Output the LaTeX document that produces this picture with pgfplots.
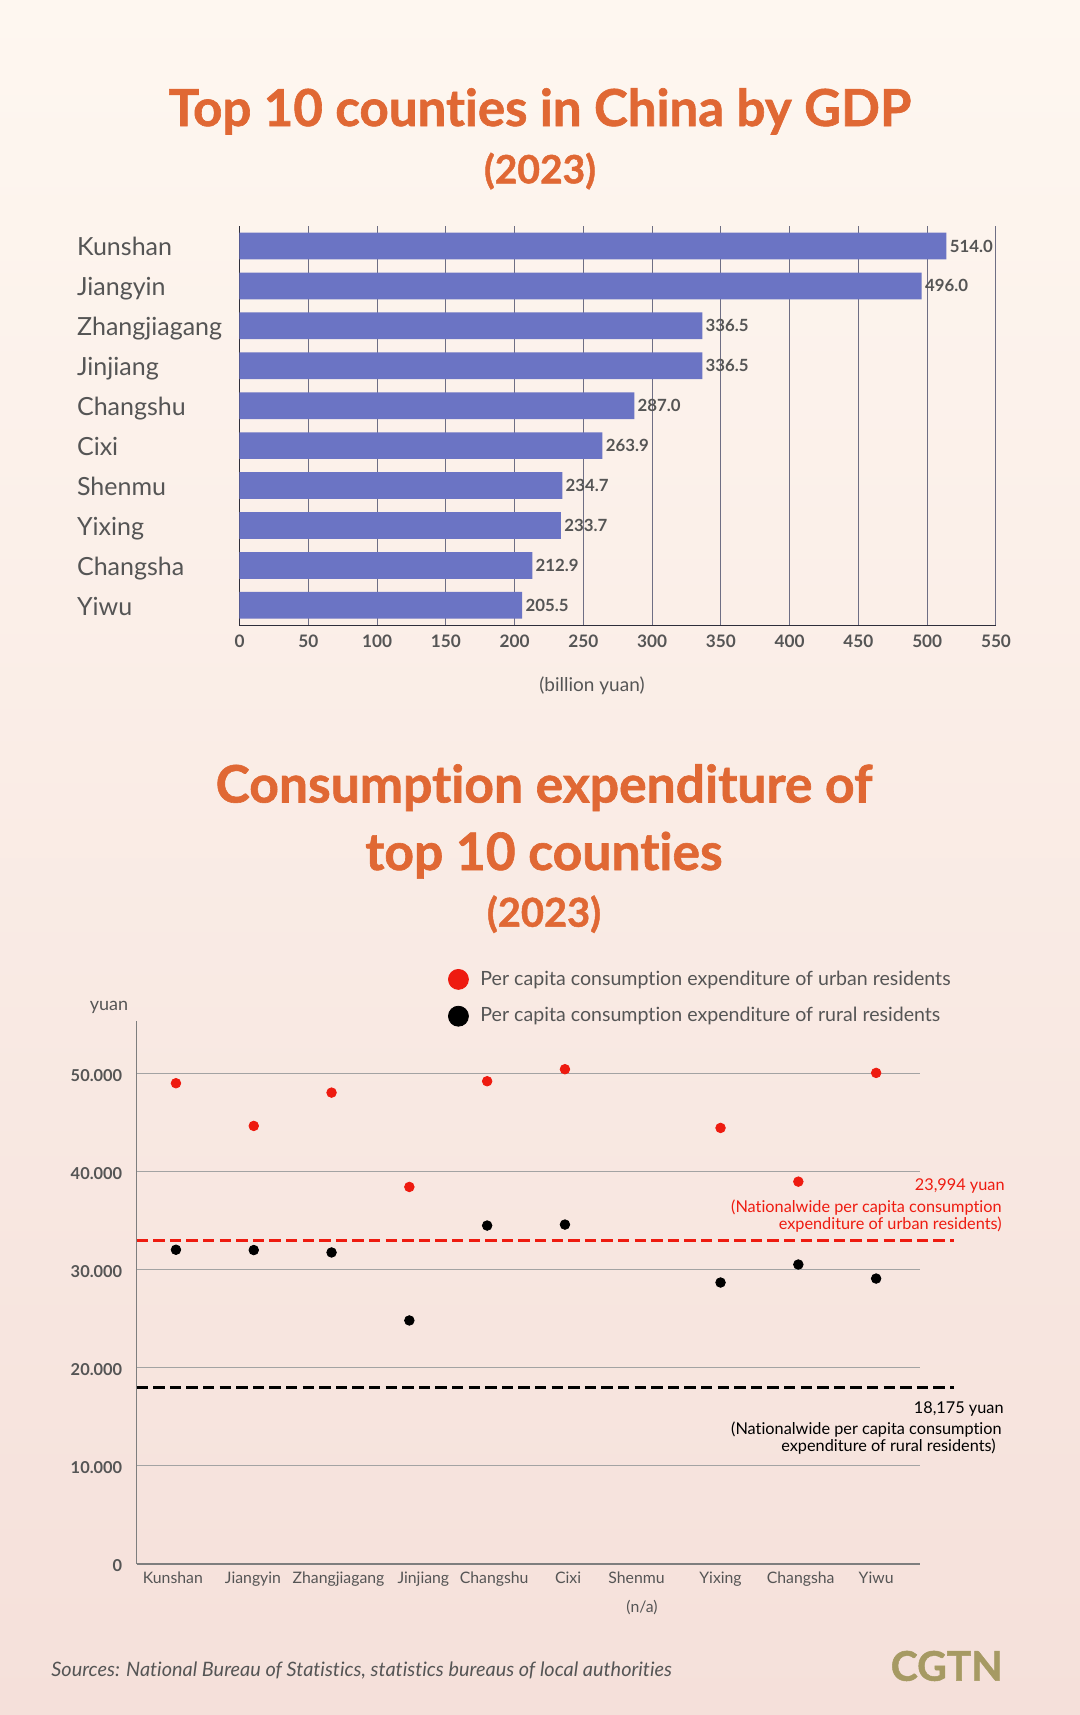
\documentclass[border=0pt]{standalone}
\usepackage{fontspec}
\setmainfont{Lato}[Ligatures=NoCommon]
\newfontfamily\titlefont{Lato}[Ligatures=NoCommon, BoldFeatures={FakeBold=1.2}]
\usepackage{pgfplots}
\pgfplotsset{compat=1.18}
\definecolor{bgtop}{HTML}{FEF7F0}
\definecolor{bgbot}{HTML}{F5E0DA}
\definecolor{ttl}{HTML}{E06834}
\definecolor{barc}{HTML}{6B74C4}
\definecolor{txt}{HTML}{555555}
\definecolor{grd}{HTML}{6E6E84}
\definecolor{axc}{HTML}{2E2E3A}
\definecolor{urb}{HTML}{EE1B10}
\definecolor{sgrd}{HTML}{A3A3A3}
\definecolor{sax}{HTML}{7E7E7E}
\definecolor{cgtn}{HTML}{A69A63}
\newcommand{\fs}[2]{\fontsize{#1}{#2}\selectfont}
\begin{document}
\begin{tikzpicture}
\useasboundingbox (0,0) rectangle (540pt,-857.5pt);
\shade[top color=bgtop,bottom color=bgbot] (0,0) rectangle (540pt,-857.5pt);

% ---------- bar chart ----------
\begin{axis}[
 at={(119.75pt,-312.65pt)}, anchor=south west,
 width=378.25pt, height=199.65pt, scale only axis,
 xbar, bar width=13.35pt, bar shift=0pt,
 xmin=0, xmax=550, ymin=-0.5, ymax=9.5,
 axis x line*=bottom, axis y line*=left,
 axis line style={axc, line width=0.7pt, -},
 x axis line style={-}, y axis line style={-},
 xtick={0,50,...,550}, ytick={0,...,9},
 yticklabels={Yiwu,Changsha,Yixing,Shenmu,Cixi,Changshu,Jinjiang,Zhangjiagang,Jiangyin,Kunshan},
 major tick length=0pt,
 xmajorgrids, grid style={grd, line width=0.5pt},
 /pgf/number format/assume math mode=true,
 xticklabel style={anchor=base, inner sep=0pt, yshift=-11.2pt, font=\bfseries\fs{8.6}{10}, text=txt},
 yticklabel style={anchor=base west, inner sep=0pt, xshift=-81.4pt, yshift=-4.85pt, font=\fs{12.5}{15}, text=txt},
 point meta=x,
 nodes near coords={\pgfmathprintnumber[fixed,fixed zerofill,precision=1,assume math mode=true]{\pgfplotspointmeta}},
 nodes near coords style={anchor=west, inner sep=0pt, xshift=1.5pt, font=\bfseries\fs{8.4}{10}, text=txt},
 clip=false,
]
\addplot[fill=barc, draw=none] coordinates {
 (514.0,9) (496.0,8) (336.5,7) (336.5,6) (287.0,5)
 (263.9,4) (234.7,3) (233.7,2) (212.9,1) (205.5,0)};
\end{axis}

% ---------- scatter chart ----------
\begin{axis}[
 at={(68.3pt,-782pt)}, anchor=south west,
 width=391.55pt, height=271.5pt, scale only axis,
 xmin=-0.506, xmax=9.56, ymin=0, ymax=55318,
 axis x line*=bottom, axis y line*=left,
 axis line style={sax, line width=0.6pt, -},
 x axis line style={-}, y axis line style={-},
 xtick={-0.04,0.99,2.09,3.18,4.09,5.04,5.92,7.0,8.03,9.0},
 xticklabels={Kunshan,Jiangyin,Zhangjiagang,Jinjiang,Changshu,Cixi,Shenmu,Yixing,Changsha,Yiwu},
 ytick={0,10000,20000,30000,40000,50000},
 yticklabels={0,10.000,20.000,30.000,40.000,50.000},
 scaled y ticks=false,
 major tick length=0pt,
 ymajorgrids, grid style={sgrd, line width=0.6pt},
 /pgf/number format/assume math mode=true,
 xticklabel style={anchor=base, inner sep=0pt, yshift=-9.65pt, font=\fs{7.9}{10}, text=txt},
 yticklabel style={anchor=east, inner sep=0pt, xshift=-7pt, yshift=-1pt, font=\bfseries\fs{8.2}{10}, text=txt},
 clip=false,
 legend cell align=left,
 legend image code/.code={\fill[#1] (0pt,0pt) circle (5pt);},
 legend style={at={(0.3977,1.0958)}, anchor=north west, draw=none, fill=none,
   inner sep=0pt, outer sep=0pt, row sep=8pt, font=\fs{9.8}{12}, text=txt,
   nodes={inner sep=0pt},
   /tikz/every odd column/.append style={column sep=5.8pt}},
]
\addplot[urb, line width=1.5pt, dash pattern=on 5.7pt off 2.6pt, forget plot] coordinates {(-0.506,32994) (10.0,32994)};
\addplot[black, line width=1.5pt, dash pattern=on 5.7pt off 2.6pt, forget plot] coordinates {(-0.506,17950) (10.0,17950)};
\addplot[only marks, mark=*, mark size=2.4pt, color=urb] coordinates {
 (0,48981) (1,44630) (2,48024) (3,38415) (4,49185) (5,50408) (7,44426) (8,38955) (9,50031)};
\addlegendentry{Per capita consumption expenditure of urban residents}
\addplot[only marks, mark=*, mark size=2.4pt, color=black] coordinates {
 (0,32016) (1,31985) (2,31740) (3,24812) (4,34480) (5,34582) (7,28677) (8,30512) (9,29081)};
\addlegendentry{Per capita consumption expenditure of rural residents}
\end{axis}

\begin{scope}[x=0.5pt,y=-0.5pt]
\node[anchor=base,text=ttl,font=\titlefont\bfseries\fs{25.5}{30}] at (540,126) {Top 10 counties in China by GDP};
\node[anchor=base,text=ttl,font=\titlefont\bfseries\fs{19.5}{23}] at (540,183.3) {(2023)};
\node[anchor=base,text=txt,font=\fs{9.5}{11}] at (592,691) {(billion yuan)};
\node[anchor=base,text=ttl,font=\titlefont\bfseries\fs{25.8}{30}] at (544,802.5) {Consumption expenditure of};
\node[anchor=base,text=ttl,font=\titlefont\bfseries\fs{25.8}{30}] at (544,870) {top 10 counties};
\node[anchor=base,text=ttl,font=\titlefont\bfseries\fs{19.9}{23}] at (544,926.7) {(2023)};
\node[anchor=base,text=txt,font=\fs{9}{11}] at (109,1010) {yuan};
\begin{scope}[every node/.style={inner sep=0pt, anchor=base east, font=\fs{8.14}{10}}]
\node[text=urb] at (1005,1190.7) {23,994 yuan};
\node[text=urb] at (1002,1212.3) {(Nationalwide per capita consumption};
\node[text=urb] at (1002,1229.5) {expenditure of urban residents)};
\node[text=black] at (1004,1413) {18,175 yuan};
\node[text=black] at (1002,1434) {(Nationalwide per capita consumption};
\node[text=black] at (996,1451) {expenditure of rural residents)};
\end{scope}
\node[anchor=base,text=txt,font=\fs{7.9}{10}] at (642,1612) {(n/a)};
\node[anchor=base west,inner sep=0pt,text=txt,font=\itshape\fs{9.94}{12}] at (51,1676) {Sources: National Bureau of Statistics, statistics bureaus of local authorities};
\node[anchor=base east,inner sep=0pt,text=cgtn,font=\titlefont\bfseries\fs{20.4}{24}] at (1003,1680.7) {CGTN};
\end{scope}
\end{tikzpicture}
\end{document}
